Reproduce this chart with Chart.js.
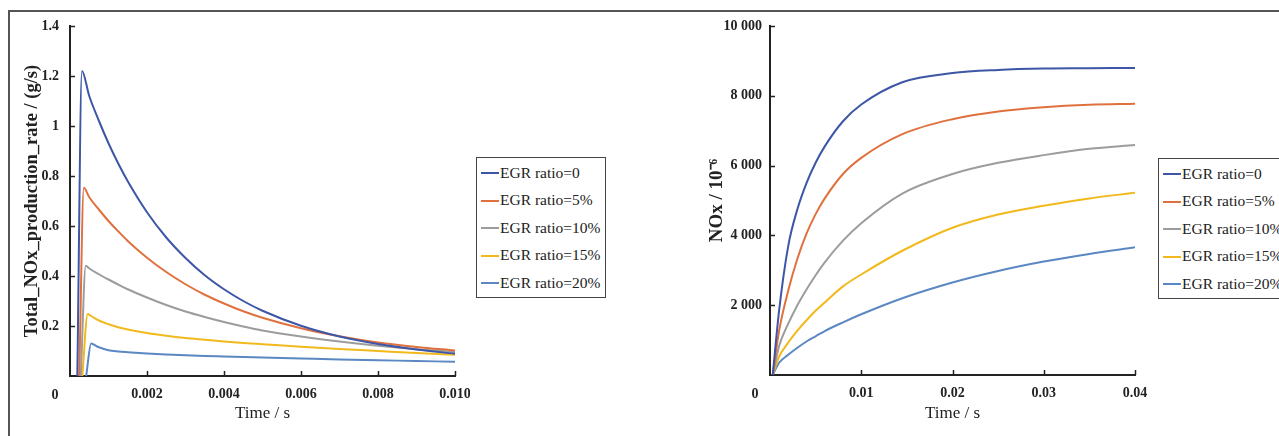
<!DOCTYPE html>
<html>
<head>
<meta charset="utf-8">
<script src="https://cdn.jsdelivr.net/npm/chart.js@4"></script>
<style>
  html, body { margin: 0; padding: 0; background: #fff; }
  body { width: 1279px; height: 436px; position: relative; overflow: hidden; font-family: "Liberation Serif", "Times New Roman", serif; }
  .frame { position: absolute; left: 8px; top: 10px; right: -10px; bottom: -10px; border-top: 2px solid #555; border-left: 2px solid #555; }
  canvas { position: absolute; top: 0; }
  #chartRate { left: 0; }
  #chartNox { left: 680px; }
  .legend { position: absolute; border: 1.5px solid #444; background: #fff; padding: 1px 5px 1px 4px; }
  .legend .item { height: 27.4px; line-height: 27.4px; font-size: 15.5px; color: #222; white-space: nowrap; }
  .legend .swatch { display: inline-block; width: 18px; height: 2px; vertical-align: middle; margin-right: 1px; position: relative; top: -1px; }
  #legendRate { left: 476px; top: 157px; }
  #legendNox { left: 1158px; top: 158px; }
</style>
</head>
<body>
<div class="frame"></div>
<canvas id="chartRate" width="470" height="436"></canvas>
<canvas id="chartNox" width="470" height="436"></canvas>
<div class="legend" id="legendRate"></div>
<div class="legend" id="legendNox"></div>
<script>
const seriesNames = ["EGR ratio=0", "EGR ratio=5%", "EGR ratio=10%", "EGR ratio=15%", "EGR ratio=20%"];
const seriesColors = ["#3d56a6", "#e0713e", "#9c9c9c", "#f2b91c", "#5b87c2"];

// Total NOx production rate (g/s) vs time (s): spike at ignition, then decay
const rateTailTime = [0.00075, 0.001, 0.00125, 0.0015, 0.002, 0.0025, 0.003, 0.0035, 0.004, 0.0045, 0.005, 0.006, 0.007, 0.008, 0.009, 0.010];

const rateHeadTime0 = [0.00019, 0.00031, 0.0005];
const rateHead0 = [0, 1.22, 1.12];
const rateTail0 = [1.021, 0.931, 0.851, 0.779, 0.655, 0.554, 0.472, 0.403, 0.347, 0.300, 0.261, 0.201, 0.158, 0.128, 0.106, 0.089];

const rateHeadTime5 = [0.00024, 0.00036, 0.0005];
const rateHead5 = [0, 0.753, 0.715];
const rateTail5 = [0.666, 0.620, 0.579, 0.540, 0.473, 0.416, 0.367, 0.325, 0.290, 0.259, 0.233, 0.191, 0.159, 0.134, 0.116, 0.102];

const rateHeadTime10 = [0.00028, 0.00041, 0.0005];
const rateHead10 = [0, 0.441, 0.43];
const rateTail10 = [0.407, 0.386, 0.366, 0.347, 0.314, 0.284, 0.258, 0.236, 0.216, 0.198, 0.182, 0.158, 0.138, 0.121, 0.107, 0.096];

const rateHeadTime15 = [0.00032, 0.00046, 0.00055];
const rateHead15 = [0, 0.248, 0.24];
const rateTail15 = [0.222, 0.207, 0.195, 0.186, 0.172, 0.161, 0.152, 0.145, 0.138, 0.132, 0.127, 0.117, 0.108, 0.100, 0.092, 0.085];

const rateHeadTime20 = [0.00042, 0.00055, 0.0007];
const rateHead20 = [0, 0.13, 0.118];
const rateTail20 = [0.115, 0.103, 0.098, 0.095, 0.090, 0.086, 0.083, 0.080, 0.078, 0.076, 0.074, 0.070, 0.066, 0.063, 0.060, 0.057];

// NOx (10^-6) vs time (s)
const noxTime  = [0.0003, 0.001, 0.002, 0.003, 0.004, 0.005, 0.006, 0.008, 0.01, 0.0145, 0.02, 0.025, 0.03, 0.035, 0.04];
const noxEgr0  = [0, 1850, 3700, 4750, 5500, 6080, 6550, 7270, 7750, 8390, 8650, 8740, 8780, 8790, 8800];
const noxEgr5  = [0, 1270, 2420, 3330, 4050, 4610, 5060, 5760, 6220, 6900, 7330, 7550, 7670, 7740, 7770];
const noxEgr10 = [0, 830, 1470, 2000, 2450, 2860, 3230, 3850, 4350, 5200, 5760, 6080, 6300, 6480, 6590];
const noxEgr15 = [0, 530, 930, 1270, 1570, 1840, 2080, 2540, 2880, 3560, 4220, 4600, 4850, 5060, 5220];
const noxEgr20 = [0, 350, 580, 780, 960, 1110, 1260, 1510, 1740, 2200, 2650, 2980, 3250, 3470, 3660];

// axis ticks
const rateXTicks = [0, 0.002, 0.004, 0.006, 0.008, 0.010];
const rateXLabels = ["", "0.002", "0.004", "0.006", "0.008", "0.010"];
const rateYTicks = [0, 0.2, 0.4, 0.6, 0.8, 1.0, 1.2, 1.4];
const rateYLabels = ["", "0.2", "0.4", "0.6", "0.8", "1", "1.2", "1.4"];
const noxXTicks = [0, 0.01, 0.02, 0.03, 0.04];
const noxXLabels = ["", "0.01", "0.02", "0.03", "0.04"];
const noxYTicks = [0, 2000, 4000, 6000, 8000, 10000];
const noxYLabels = ["", "2 000", "4 000", "6 000", "8 000", "10 000"];
const originLabel = "0";

const serif = '"Liberation Serif", "Times New Roman", serif';
const ink = "#222";

function pares(ts, ys) {
  return ts.map((t, i) => ({ x: t, y: ys[i] }));
}

function montarDatasets(pairs) {
  return pairs.map((p, i) => ({
    label: seriesNames[i],
    data: pares(p[0], p[1]),
    borderColor: seriesColors[i],
    borderWidth: 2,
    pointRadius: 0,
    fill: false,
    cubicInterpolationMode: "monotone"
  }));
}

// tick marks pointing into the plot, plus the shared "0" at the origin
const ticksInternos = {
  id: "ticksInternos",
  afterDraw(chart) {
    const { ctx, scales } = chart;
    const x = scales.x, y = scales.y;
    ctx.save();
    ctx.strokeStyle = ink;
    ctx.lineWidth = 1.5;
    ctx.beginPath();
    x.ticks.forEach((t) => {
      if (t.value === 0) return;
      const px = Math.round(x.getPixelForValue(t.value)) + 0.5;
      ctx.moveTo(px, x.top);
      ctx.lineTo(px, x.top - 5);
    });
    y.ticks.forEach((t) => {
      if (t.value === 0) return;
      const py = Math.round(y.getPixelForValue(t.value)) + 0.5;
      ctx.moveTo(y.right, py);
      ctx.lineTo(y.right + 5, py);
    });
    ctx.stroke();
    ctx.fillStyle = ink;
    ctx.font = "bold 14px " + serif;
    ctx.textAlign = "center";
    ctx.textBaseline = "middle";
    ctx.fillText(originLabel, x.left - 15, x.top + 19);
    ctx.restore();
  }
};

function criarGrafico(id, cfg) {
  return new Chart(document.getElementById(id), {
    type: "line",
    data: { datasets: cfg.datasets },
    options: {
      responsive: false,
      animation: false,
      layout: { padding: { top: 26, right: 15, left: 0, bottom: 0 } },
      plugins: { legend: { display: false }, tooltip: { enabled: false } },
      scales: {
        x: {
          type: "linear",
          min: cfg.xTicks[0],
          max: cfg.xTicks[cfg.xTicks.length - 1],
          afterBuildTicks: (s) => { s.ticks = cfg.xTicks.map((v) => ({ value: v })); },
          afterFit: (s) => { s.height = cfg.xHeight; s.paddingLeft = 0; s.paddingRight = 0; },
          grid: { display: false, drawTicks: false },
          border: { display: true, color: ink, width: 2 },
          ticks: {
            padding: 10,
            color: ink,
            font: { family: serif, size: 14, weight: "bold" },
            maxRotation: 0,
            autoSkip: false,
            callback: (v, i) => cfg.xLabels[i]
          },
          title: {
            display: true,
            text: "Time / s",
            color: ink,
            font: { family: serif, size: 17 },
            padding: { top: 0, bottom: 12 }
          }
        },
        y: {
          type: "linear",
          min: cfg.yTicks[0],
          max: cfg.yTicks[cfg.yTicks.length - 1],
          afterBuildTicks: (s) => { s.ticks = cfg.yTicks.map((v) => ({ value: v })); },
          afterFit: (s) => { s.width = cfg.yWidth; s.paddingTop = 0; s.paddingBottom = 0; },
          grid: { display: false, drawTicks: false },
          border: { display: true, color: ink, width: 2 },
          ticks: {
            padding: cfg.yPad,
            color: ink,
            font: { family: serif, size: 14, weight: "bold" },
            autoSkip: false,
            callback: (v, i) => cfg.yLabels[i]
          },
          title: {
            display: true,
            text: cfg.yTitle,
            color: ink,
            font: { family: serif, size: cfg.yTitleSize, weight: "bold" },
            padding: { top: cfg.yTitlePad, bottom: 0 }
          }
        }
      }
    },
    plugins: [ticksInternos]
  });
}

function montarLegenda(id) {
  const box = document.getElementById(id);
  seriesNames.forEach((nome, i) => {
    const item = document.createElement("div");
    item.className = "item";
    item.innerHTML = `<span class="swatch" style="background:${seriesColors[i]}"></span>${nome}`;
    box.appendChild(item);
  });
}

criarGrafico("chartRate", {
  datasets: montarDatasets([
    [rateHeadTime0.concat(rateTailTime), rateHead0.concat(rateTail0)],
    [rateHeadTime5.concat(rateTailTime), rateHead5.concat(rateTail5)],
    [rateHeadTime10.concat(rateTailTime), rateHead10.concat(rateTail10)],
    [rateHeadTime15.concat(rateTailTime), rateHead15.concat(rateTail15)],
    [rateHeadTime20.concat(rateTailTime), rateHead20.concat(rateTail20)]
  ]),
  xTicks: rateXTicks, xLabels: rateXLabels,
  yTicks: rateYTicks, yLabels: rateYLabels,
  yTitle: "Total_NOx_production_rate / (g/s)",
  yTitleSize: 18.5, yWidth: 70, xHeight: 60, yPad: 11, yTitlePad: 21
});

criarGrafico("chartNox", {
  datasets: montarDatasets([
    [noxTime, noxEgr0], [noxTime, noxEgr5], [noxTime, noxEgr10],
    [noxTime, noxEgr15], [noxTime, noxEgr20]
  ]),
  xTicks: noxXTicks, xLabels: noxXLabels,
  yTicks: noxYTicks, yLabels: noxYLabels,
  yTitle: "NOx / 10⁻⁶",
  yTitleSize: 19, yWidth: 90, xHeight: 61, yPad: 8, yTitlePad: 26
});

montarLegenda("legendRate");
montarLegenda("legendNox");
</script>
</body>
</html>
